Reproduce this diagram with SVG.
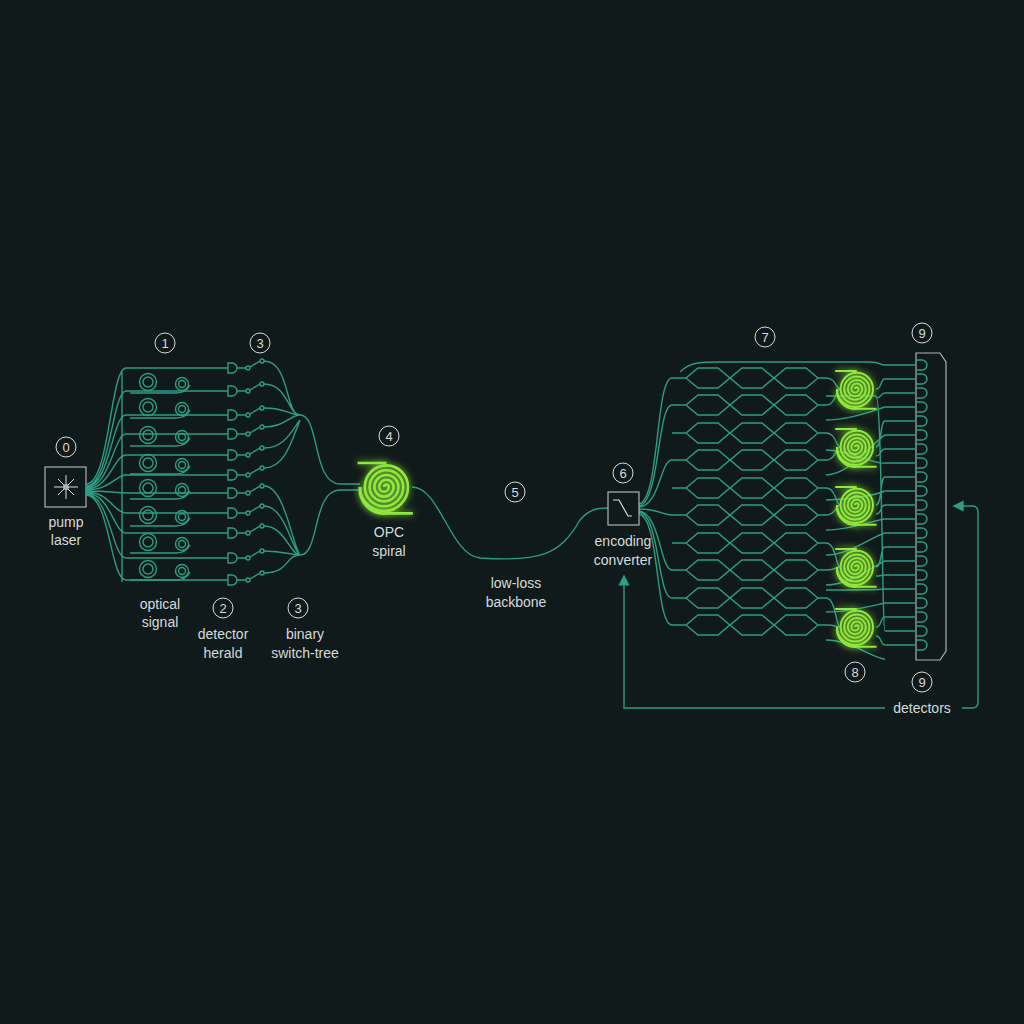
<svg xmlns="http://www.w3.org/2000/svg" xmlns:xlink="http://www.w3.org/1999/xlink" width="1024" height="1024" viewBox="0 0 1024 1024">
<style>
.w{fill:none;stroke:#2d9c84;stroke-width:1.4}
.t{font-family:"Liberation Sans",Arial,sans-serif;font-size:14px;fill:#d4dbdb;text-anchor:middle}
.n{fill:none;stroke:#d4dbdb;stroke-width:1}
.nt{font-family:"Liberation Sans",Arial,sans-serif;font-size:13px;fill:#d4dbdb;text-anchor:middle}
.sp{fill:none;stroke:#8fe83a;stroke-width:2.2}
</style>
<defs>
<filter id="glow" x="-60%" y="-60%" width="220%" height="220%">
<feGaussianBlur stdDeviation="3.5" result="b"/>
<feMerge><feMergeNode in="b"/><feMergeNode in="SourceGraphic"/></feMerge>
</filter>
<g id="spiral">
<path class="sp" d="M0,0 A2,2 0 0 1 4,0 A4,4 0 0 1 -4,0 A6,6 0 0 1 8,0 A8,8 0 0 1 -8,0 A10,10 0 0 1 12,0 A12,12 0 0 1 -12,0 A14,14 0 0 1 16,0 A16,16 0 0 1 -16,0 A18,18 0 0 1 20,0 A20,20 0 0 1 -20,0"/>
<path class="sp" d="M-22,-20 H2 M-20,0 A20,20 0 0 0 2,22 H24"/>
</g>
<g id="ring"><circle class="w" cx="0" cy="0" r="8.5"/><circle class="w" cx="0" cy="0" r="5"/><circle class="w" cx="34" cy="2" r="6.5"/><circle class="w" cx="34" cy="2" r="3.5"/><path class="w" d="M-18,11 H28 q10,0 14,-8"/></g>
<g id="det"><path class="w" d="M222,0 H228 M228,-5 h4 a5,5 0 0 1 0,10 h-4 z M237,0 H246"/><circle class="w" cx="248" cy="0" r="2"/><path class="w" d="M250,-1 L260,-7"/><circle class="w" cx="262" cy="-7" r="2"/></g>
<g id="hex"><path class="w" d="M672,0 H686 l12,-10 h20 l12,10 l12,-10 h20 l12,10 l12,-10 h20 l12,10 H826 M686,0 l12,10 h20 l12,-10 l12,10 h20 l12,-10 l12,10 h20 l12,-10"/></g>
<g id="bump"><path class="w" d="M885,0 H916 M916,-5 h6 a5,5 0 0 1 0,10 h-6"/></g>
<marker id="ar" viewBox="0 0 10 10" refX="5" refY="5" markerWidth="8" markerHeight="8" orient="auto"><path d="M0,0 L10,5 L0,10 z" fill="#2d9c84"/></marker>
</defs>
<rect width="1024" height="1024" fill="#111a1b"/>

<g id="pump">
<rect x="45" y="467" width="41" height="40" fill="none" stroke="#aab3b3" stroke-width="1.2"/>
<path d="M66,475 V499 M54,487 H78 M58,479 L74,495 M74,479 L58,495" stroke="#d4dbdb" stroke-width="1"/>
<circle cx="66" cy="487" r="3" fill="#aab3b3"/>
<circle class="n" cx="66" cy="447" r="10"/><text class="nt" x="66" y="452">0</text>
<text class="t" x="66" y="527">pump</text><text class="t" x="66" y="545">laser</text>
</g>

<g id="connectors">
<path class="w" d="M86,484 C110,484 110,368 126,368 H222 M86,486 C110,486 112,391 126,391 H222 M86,487 C110,487 112,415 126,415 H222 M86,488 C110,488 114,434 126,434 H222 M86,489 C110,489 114,455 126,455 H222 M86,490 C110,490 116,475 126,475 H222 M86,491 C110,491 116,493 126,493 H222 M86,492 C110,492 114,513 126,513 H222 M86,493 C110,493 114,533 126,533 H222 M86,494 C110,494 112,558 126,558 H222 M86,495 C110,495 110,580 126,580 H222"/>
<path class="w" d="M264,361 C290,361 285,415 300,415 M264,384 C288,384 288,415 300,415 M264,408 C285,408 290,415 300,415 M264,427 C285,427 290,415 300,415 M264,448 C285,448 292,430 300,420 M264,468 C285,468 292,440 300,420 M264,486 C285,486 292,545 300,555 M264,506 C285,506 292,550 300,555 M264,526 C285,526 290,555 300,555 M264,551 C285,551 290,555 300,555 M264,573 C290,573 285,555 300,555 M300,415 C320,415 312,484 340,484 H360 M300,555 C320,555 312,490 340,490 H360"/>
<path class="w" d="M412,487 C440,487 450,555 480,558 C540,562 560,555 580,520 C590,508 600,508 608,508"/>
<path class="w" d="M638,504 C660,504 655,378 672,378 M638,506 C660,506 657,405 672,405 M638,507 C660,507 660,460 672,460 M638,509 C660,509 662,515 672,515 M638,511 C660,511 660,570 672,570 M638,512 C660,512 657,598 672,598 M638,514 C660,514 655,625 672,625"/>
<path class="w" d="M826,378 C836,378 836,389 840,389 M826,405 C836,405 836,389 840,389 M826,433 C836,433 836,447 840,447 M826,460 C836,460 836,447 840,447 M826,488 C836,488 836,505 840,505 M826,515 C836,515 836,505 840,505 M826,543 C836,543 836,567 840,567 M826,570 C836,570 836,567 840,567 M826,598 C836,598 836,627 840,627 M826,625 C836,625 836,627 840,627"/>
<path class="w" d="M680,372 C690,362 700,362 720,362 H870 C880,362 880,365 885,365"/>
<path class="w" d="M876,389 C882,389 880,379 885,379 M876,398 C882,398 880,393 885,393 M876,447 C882,447 880,421 885,421 M876,456 C882,456 880,449 885,449 M876,505 C882,505 880,477 885,477 M876,514 C882,514 880,505 885,505 M876,567 C882,567 880,547 885,547 M876,576 C882,576 880,575 885,575 M876,627 C882,627 880,617 885,617 M876,636 C882,636 880,645 885,645 M826,420 C850,420 875,410 885,407 M826,475 C850,475 875,440 885,435 M826,530 C850,530 875,520 885,519 M826,555 C850,555 875,535 885,533 M826,590 C850,590 875,590 885,589 M826,612 C850,612 875,605 885,603 M826,640 C850,640 875,659 885,659 M826,500 C850,500 875,495 885,491 M826,585 C850,585 875,565 885,561 M826,450 C850,450 875,465 885,463 M826,396 H876 C882,396 882,631 885,631"/>
<path class="w" d="M885,708 H624 V580" marker-end="url(#ar)"/>
<path class="w" d="M962,708 H972 Q978,708 978,702 V512 Q978,506 972,506 H958" marker-end="url(#ar)"/>
</g>

<g id="sources">
<use href="#ring" x="148" y="382"/><use href="#ring" x="148" y="407"/><use href="#ring" x="148" y="435"/><use href="#ring" x="148" y="463"/>
<use href="#ring" x="148" y="488"/><use href="#ring" x="148" y="515"/><use href="#ring" x="148" y="542"/><use href="#ring" x="148" y="569"/>
<path class="w" d="M122,372 V582"/>
<circle class="n" cx="165" cy="343" r="10"/><text class="nt" x="165" y="348">1</text>
<text class="t" x="160" y="609">optical</text><text class="t" x="160" y="627">signal</text>
</g>

<g id="detectors-herald">
<use href="#det" y="368"/><use href="#det" y="391"/><use href="#det" y="415"/><use href="#det" y="434"/><use href="#det" y="455"/><use href="#det" y="475"/>
<use href="#det" y="493"/><use href="#det" y="513"/><use href="#det" y="533"/><use href="#det" y="558"/><use href="#det" y="580"/>
<circle class="n" cx="223" cy="608" r="10"/><text class="nt" x="223" y="613">2</text>
<text class="t" x="223" y="639">detector</text><text class="t" x="223" y="658">herald</text>
</g>

<g id="switch-tree">
<circle class="n" cx="260" cy="343" r="10"/><text class="nt" x="260" y="348">3</text>
<circle class="n" cx="298" cy="608" r="10"/><text class="nt" x="298" y="613">3</text>
<text class="t" x="305" y="639">binary</text><text class="t" x="305" y="658">switch-tree</text>
</g>

<g id="opc">
<g filter="url(#glow)"><use href="#spiral" transform="translate(384,487) scale(1.2)"/></g>
<circle class="n" cx="389" cy="436" r="10"/><text class="nt" x="389" y="441">4</text>
<text class="t" x="389" y="537">OPC</text><text class="t" x="389" y="556">spiral</text>
</g>

<g id="backbone">
<circle class="n" cx="515" cy="492" r="10"/><text class="nt" x="515" y="497">5</text>
<text class="t" x="516" y="588">low-loss</text><text class="t" x="516" y="607">backbone</text>
</g>

<g id="converter">
<rect x="608" y="492" width="31" height="33" fill="#111a1b" stroke="#aab3b3" stroke-width="1.2"/>
<path d="M613,500 H619 L628,516 H632" fill="none" stroke="#d4dbdb" stroke-width="1.2"/>
<circle class="n" cx="623" cy="473" r="10"/><text class="nt" x="623" y="478">6</text>
<text class="t" x="623" y="546">encoding</text><text class="t" x="623" y="565">converter</text>
</g>

<g id="mesh">
<use href="#hex" y="378"/><use href="#hex" y="405"/><use href="#hex" y="433"/><use href="#hex" y="460"/><use href="#hex" y="488"/>
<use href="#hex" y="515"/><use href="#hex" y="543"/><use href="#hex" y="570"/><use href="#hex" y="598"/><use href="#hex" y="625"/>
<circle class="n" cx="765" cy="337" r="10"/><text class="nt" x="765" y="342">7</text>
</g>

<g id="mesh-spirals">
<g filter="url(#glow)">
<use href="#spiral" transform="translate(855,389) scale(0.9)"/>
<use href="#spiral" transform="translate(855,447) scale(0.9)"/>
<use href="#spiral" transform="translate(855,505) scale(0.9)"/>
<use href="#spiral" transform="translate(855,567) scale(0.9)"/>
<use href="#spiral" transform="translate(855,627) scale(0.9)"/>
</g>
<circle class="n" cx="855" cy="672" r="10"/><text class="nt" x="855" y="677">8</text>
</g>

<g id="detector-array">
<path d="M916,353 H940 L946,362 V651 L940,660 H916 Z" fill="none" stroke="#aab3b3" stroke-width="1.2"/>
<use href="#bump" y="365"/><use href="#bump" y="379"/><use href="#bump" y="393"/><use href="#bump" y="407"/><use href="#bump" y="421"/><use href="#bump" y="435"/>
<use href="#bump" y="449"/><use href="#bump" y="463"/><use href="#bump" y="477"/><use href="#bump" y="491"/><use href="#bump" y="505"/><use href="#bump" y="519"/>
<use href="#bump" y="533"/><use href="#bump" y="547"/><use href="#bump" y="561"/><use href="#bump" y="575"/><use href="#bump" y="589"/><use href="#bump" y="603"/>
<use href="#bump" y="617"/><use href="#bump" y="631"/><use href="#bump" y="645"/>
<circle class="n" cx="922" cy="333" r="10"/><text class="nt" x="922" y="338">9</text>
<circle class="n" cx="922" cy="682" r="10"/><text class="nt" x="922" y="687">9</text>
<text class="t" x="922" y="713">detectors</text>
</g>
</svg>
